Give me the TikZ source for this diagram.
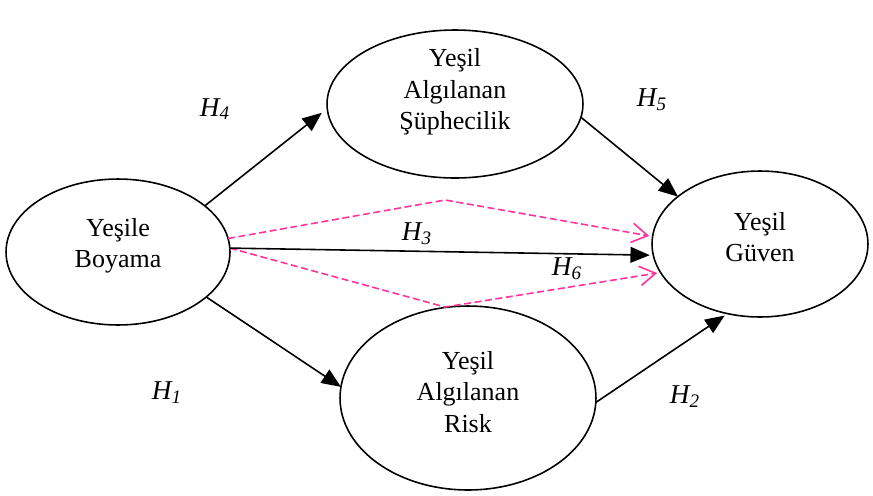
\documentclass[tikz,border=0pt]{standalone}
\usepackage{fontspec}
\setmainfont{Liberation Serif}
\usetikzlibrary{shapes.geometric,arrows.meta}
\definecolor{hotpink}{RGB}{255,51,153}
\begin{document}
\begin{tikzpicture}[x=0.02cm,y=-0.02cm,
  ell/.style={draw,ellipse,line width=0.9pt,inner sep=0pt,outer sep=0pt},
  txt/.style={font=\fontsize{14.8}{17.8}\selectfont,align=center,inner sep=0pt},
  hyp/.style={font=\fontsize{15.5}{17.8}\selectfont\itshape,inner sep=0pt},
  arr/.style={line width=0.9pt,-{Triangle[length=11pt,width=9pt]}},
  parr/.style={hotpink,line width=0.9pt,dash pattern=on 4pt off 2pt,-{Straight Barb[length=9pt,width=11pt]}}]
\useasboundingbox (0,0) rectangle (873,495);
% ellipses
\node[ell,minimum width=4.48cm,minimum height=2.92cm] (yb) at (118,252) {};
\node[ell,minimum width=5.12cm,minimum height=2.96cm] (ys) at (455,104) {};
\node[ell,minimum width=5.12cm,minimum height=3.68cm] (yr) at (468,398) {};
\node[ell,minimum width=4.32cm,minimum height=2.92cm] (yg) at (760,244) {};
% texts
\node[txt] (tyb) at (118,246) {Yeşile\\Boyama};
\node[txt] (tys) at (455,92) {Yeşil\\Algılanan\\Şüphecilik};
\node[txt] (tyr) at (468,392) {Yeşil\\Algılanan\\Risk};
\node[txt] (tyg) at (760,237) {Yeşil\\Güven};
% pink dashed
\coordinate (pu) at (445,200);
\coordinate (pl) at (445,307);
\draw[parr,shorten >=2pt] (yb.7) -- (pu) -- (yg.176.5);
\draw[parr,shorten >=2pt] (yb.2) -- (pl) -- (yg.196.7);
% black arrows
\draw[arr,shorten >=4pt] (yb.28) -- (ys.182);
\draw[arr] (ys.-6) -- (yg.150);
\draw[arr] (yb.-27) -- (yr.175.6);
\draw[arr,shorten >=2pt] (yr.-2) -- (yg.245);
\draw[arr,shorten >=2pt] (yb.2) -- (yg.186);
% hypothesis labels
\node[hyp] (h4) at (215,109) {H\textsubscript{4}};
\node[hyp] (h5) at (652,100) {H\textsubscript{5}};
\node[hyp] (h3) at (417,234) {H\textsubscript{3}};
\node[hyp] (h6) at (567,269) {H\textsubscript{6}};
\node[hyp] (h1) at (167,393) {H\textsubscript{1}};
\node[hyp] (h2) at (685,397) {H\textsubscript{2}};
\end{tikzpicture}
\end{document}
